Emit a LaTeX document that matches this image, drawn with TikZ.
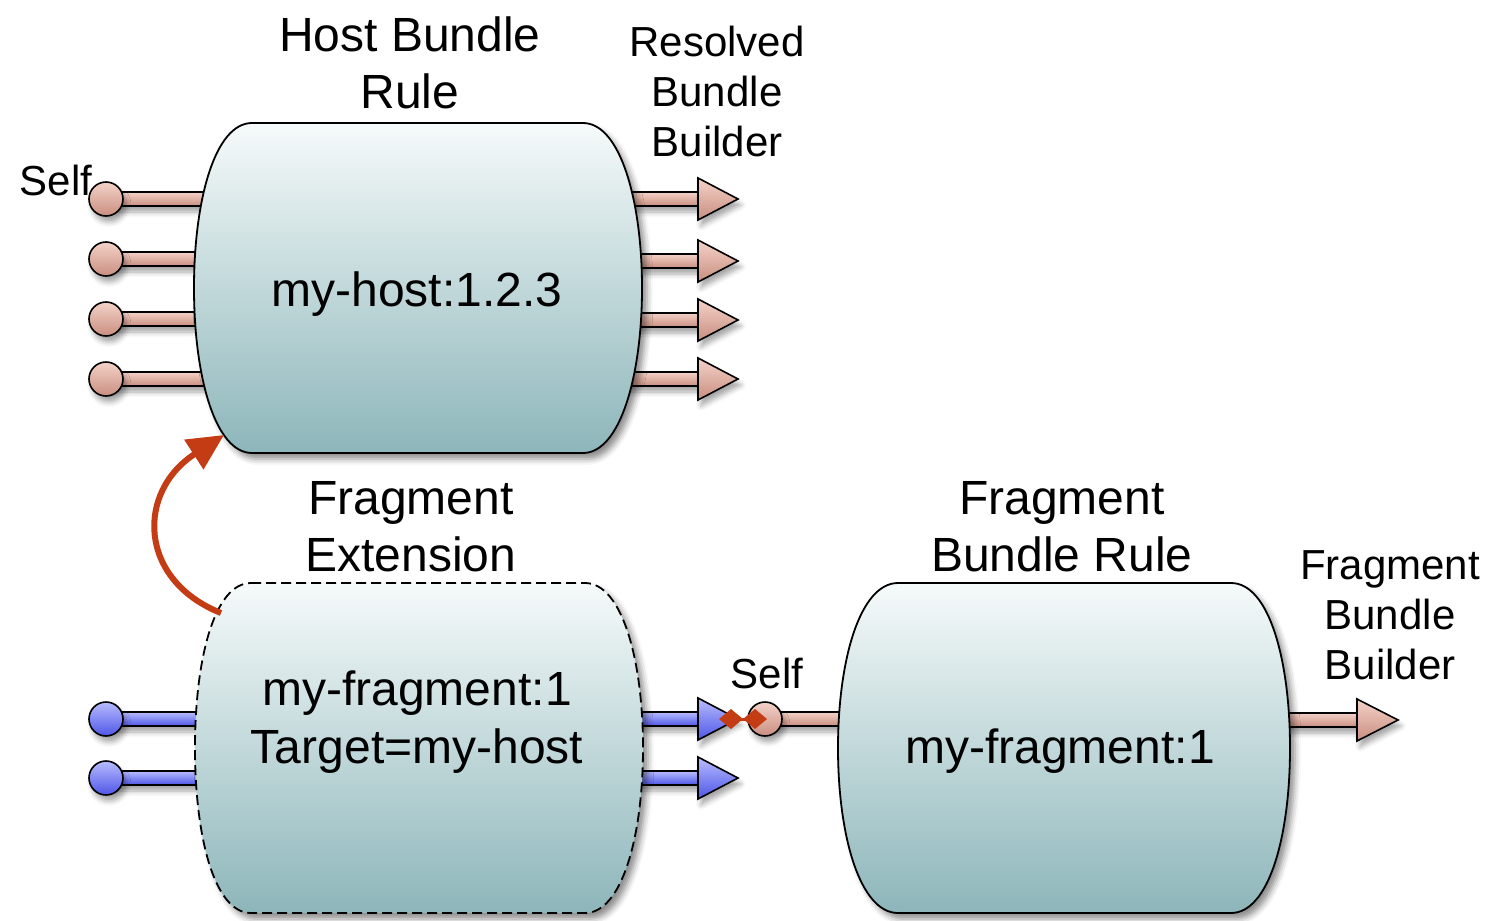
\documentclass[tikz,border=0pt]{standalone}
\usepackage{fontspec}
\setmainfont{Liberation Sans}
\usetikzlibrary{arrows.meta,shadows.blur,calc}
\definecolor{pinkT}{HTML}{F4D2C8}
\definecolor{pinkB}{HTML}{C98E80}
\definecolor{blueT}{HTML}{B8BCFF}
\definecolor{blueB}{HTML}{4E56E6}
\definecolor{boxT}{HTML}{F6FAFA}
\definecolor{boxB}{HTML}{8DB6BA}
\definecolor{redA}{HTML}{C43C14}
\tikzset{
  title/.style={font=\fontsize{24}{28.5}\selectfont, align=center, inner sep=0pt},
  lbl/.style={font=\fontsize{21}{25}\selectfont, align=center, inner sep=0pt},
  boxtext/.style={font=\fontsize{24}{29}\selectfont, align=center, inner sep=0pt},
  barrel/.style={draw=black, line width=0.9pt, top color=boxT, bottom color=boxB,
    blur shadow={shadow xshift=2.5pt, shadow yshift=-3pt, shadow blur radius=3pt, shadow opacity=45}},
  portshadow/.style={blur shadow={shadow xshift=1.5pt, shadow yshift=-3pt, shadow blur radius=2.5pt, shadow opacity=35}},
  pinkpart/.style={draw=black, line width=0.8pt, top color=pinkT, bottom color=pinkB, portshadow},
  bluepart/.style={draw=black, line width=0.8pt, top color=blueT, bottom color=blueB, portshadow},
  extlink/.style={draw=redA, line width=3pt, -{Triangle[length=18pt,width=17pt]}},
  dlink/.style={draw=redA, fill=redA, line width=1.5pt, {Diamond[length=12pt,width=10pt]}-{Diamond[length=12pt,width=10pt]}}
}
\begin{document}
\begin{tikzpicture}[x=0.5pt,y=-0.5pt]
\useasboundingbox (0,0) rectangle (1489,921);

% ---------- Host ports ----------
\foreach \i/\y in {1/199,2/259,3/319,4/379}{
  \coordinate (hin\i) at (106,\y);
  \coordinate (hinE\i) at (240,\y);
  \path[pinkpart] (106,{\y-7}) rectangle (hinE\i |- 0,{\y+7});
  \path[pinkpart] (hin\i) circle[radius=8.5pt];
}
\foreach \i/\y in {1/199,2/261,3/320,4/379}{
  \coordinate (hout\i) at (738,\y);
  \coordinate (houtS\i) at (600,\y);
  \path[pinkpart] (houtS\i |- 0,{\y-7}) rectangle (698,{\y+7});
  \path[pinkpart] (698,{\y-21}) -- (hout\i) -- (698,{\y+21}) -- cycle;
}

% ---------- Fragment extension ports ----------
\foreach \i/\y in {1/719,2/778}{
  \coordinate (fin\i) at (106,\y);
  \path[bluepart] (106,{\y-7}) rectangle (240,{\y+7});
  \path[bluepart] (fin\i) circle[radius=8.5pt];
  \coordinate (fout\i) at (738,\y);
  \path[bluepart] (600,{\y-7}) rectangle (698,{\y+7});
  \path[bluepart] (698,{\y-21}) -- (fout\i) -- (698,{\y+21}) -- cycle;
}

% ---------- Fragment bundle ports ----------
\coordinate (fself) at (765,719);
\path[pinkpart] (765,712) rectangle (860,726);
\path[pinkpart] (fself) circle[radius=8.5pt];
\coordinate (fbout) at (1398,720);
\path[pinkpart] (1260,713) rectangle (1357,727);
\path[pinkpart] (1357,699) -- (fbout) -- (1357,741) -- cycle;

% ---------- Boxes ----------
\path[barrel] (252,123) -- (583,123) .. controls (620,123) and (642,200) .. (642,288)
   .. controls (642,376) and (620,453) .. (583,453) -- (252,453)
   .. controls (215,453) and (194,376) .. (194,288) .. controls (194,200) and (215,123) .. cycle;
\coordinate (hostcorner) at (224,435);

\path[barrel, dash pattern=on 5pt off 2.5pt] (251,583) -- (585,583) .. controls (622,583) and (643,660) .. (643,748)
   .. controls (643,836) and (622,913) .. (585,913) -- (251,913)
   .. controls (214,913) and (195,836) .. (195,748) .. controls (195,660) and (214,583) .. cycle;
\coordinate (extcorner) at (221,613);

\path[barrel] (898,583) -- (1231,583) .. controls (1269,583) and (1290,660) .. (1290,748)
   .. controls (1290,836) and (1269,913) .. (1231,913) -- (898,913)
   .. controls (860,913) and (838,836) .. (838,748) .. controls (838,660) and (860,583) .. cycle;

% ---------- Links ----------
\draw[extlink] (extcorner) .. controls (138,580) and (136,492) .. (hostcorner);
\coordinate (dl) at (719,719);
\coordinate (dr) at (767,719);
\draw[dlink] (dl) -- (dr);

% ---------- Texts ----------
\node[title] (thost) at (410,63) {Host Bundle\\Rule};
\node[lbl] (tres) at (717,91) {Resolved\\Bundle\\Builder};
\node[lbl] (tself1) at (56,180) {Self};
\node[boxtext] (hosttxt) at (417,294) {my-host:1.2.3};
\node[title] (text) at (411,527) {Fragment\\Extension};
\node[boxtext] (exttxt) at (417,722) {my-fragment:1\\Target=my-host};
\node[title] (tfbr) at (1062,527) {Fragment\\Bundle Rule};
\node[lbl] (tfbb) at (1390,615) {Fragment\\Bundle\\Builder};
\node[lbl] (tself2) at (767,673) {Self};
\node[boxtext] (fbrtxt) at (1060,751) {my-fragment:1};
\end{tikzpicture}
\end{document}
